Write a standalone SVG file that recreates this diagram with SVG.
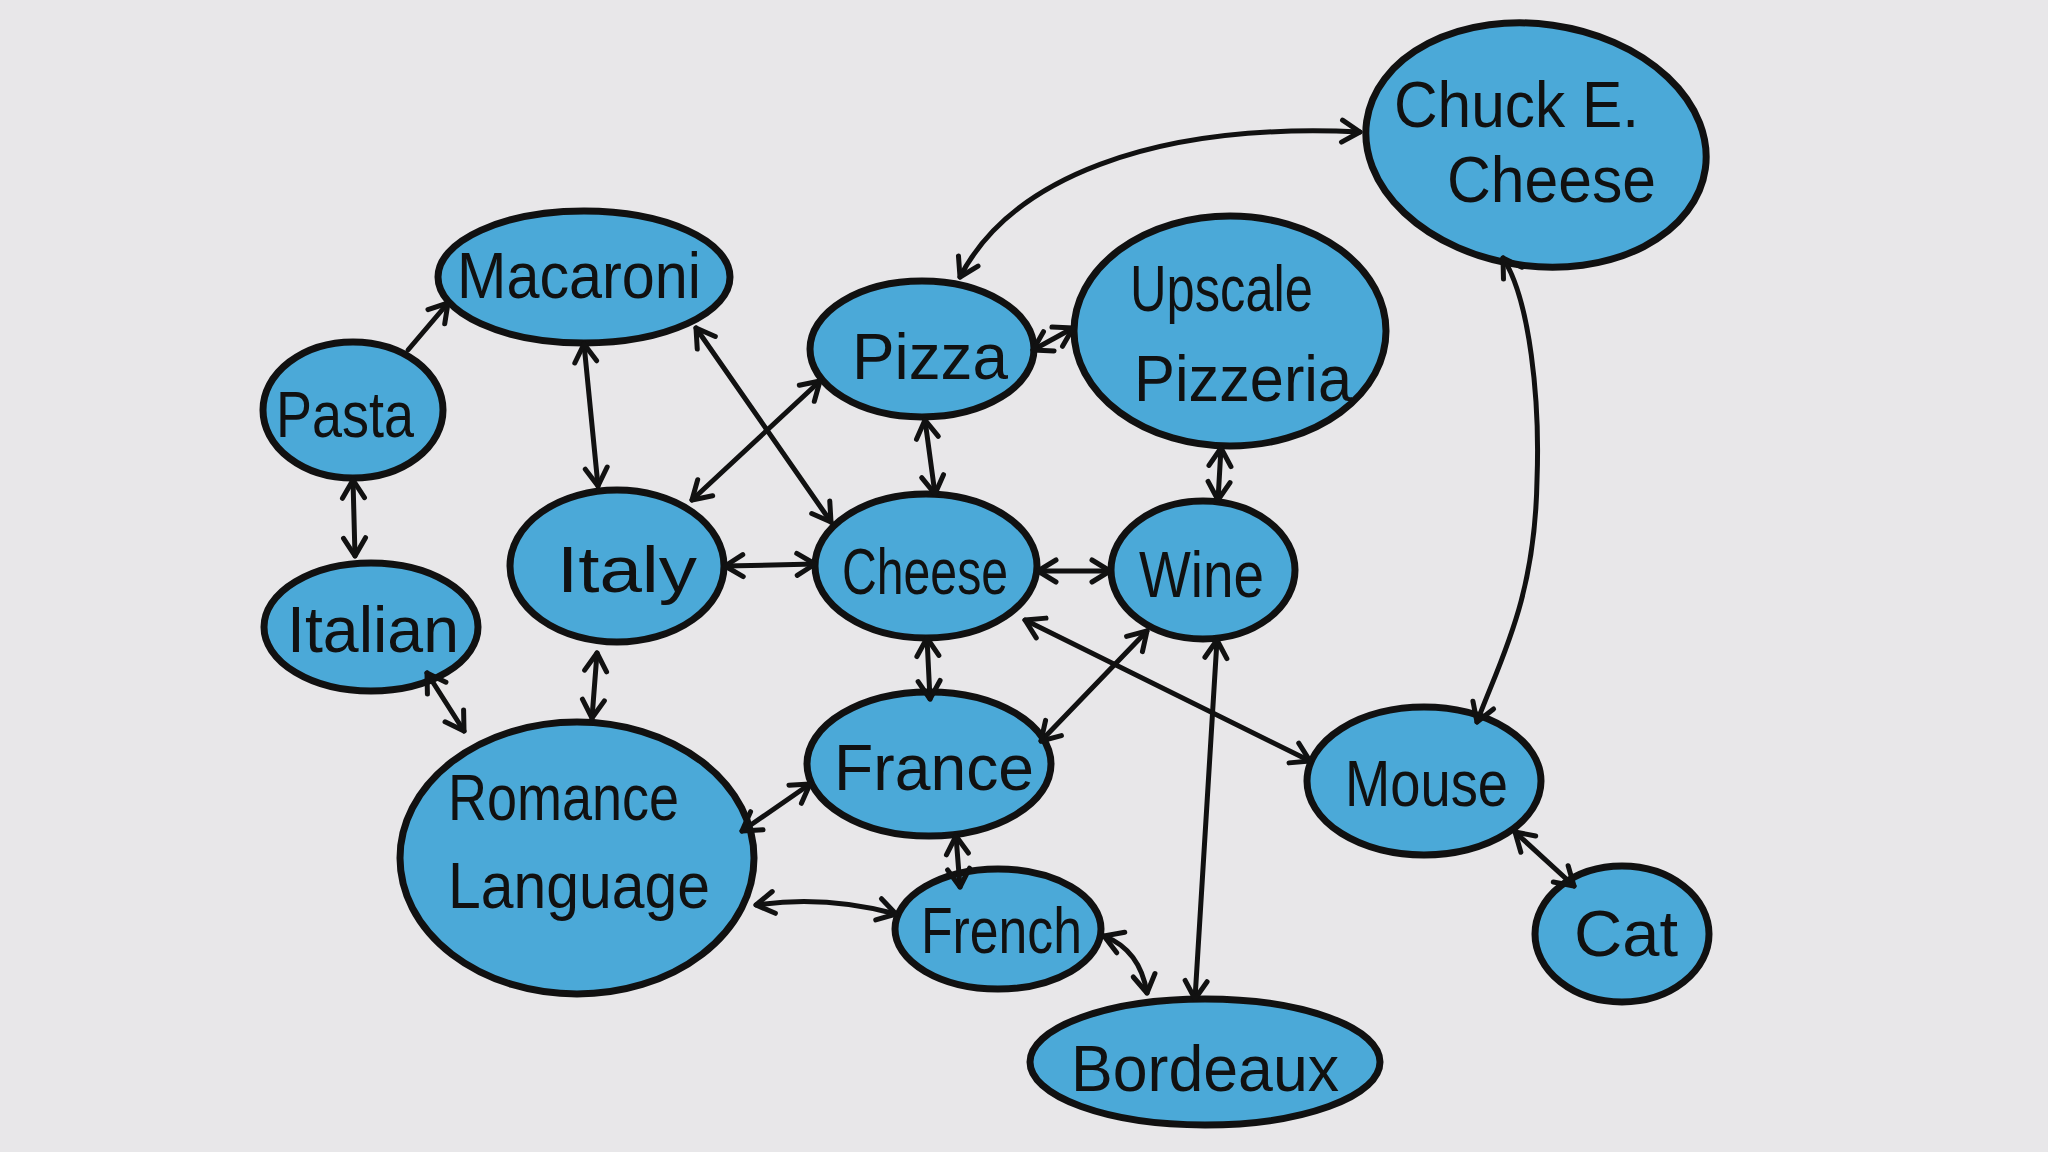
<svg xmlns="http://www.w3.org/2000/svg" width="2048" height="1152" viewBox="0 0 2048 1152">
<defs>
<style>
.node{fill:#4ba9d8;stroke:#111;stroke-width:7}
.lbl{font-family:"Liberation Sans","DejaVu Sans",sans-serif;font-size:64px;fill:#111}
.edge{fill:none;stroke:#111;stroke-width:5;stroke-linecap:round}
.two{marker-start:url(#ah);marker-end:url(#ah)}
.one{marker-end:url(#ah)}
</style>
<marker id="ah" viewBox="-30 -16 34 32" refX="0" refY="0" markerWidth="34" markerHeight="32" markerUnits="userSpaceOnUse" orient="auto-start-reverse" overflow="visible">
<path d="M-18,-11 L0,0 L-18,11" fill="none" stroke="#111" stroke-width="5" stroke-linecap="round" stroke-linejoin="round"/>
</marker>
</defs>
<rect width="2048" height="1152" fill="#e8e7e9"/>

<g id="n-macaroni"><ellipse class="node" cx="584" cy="277" rx="146" ry="66"/><text class="lbl" x="457" y="298" textLength="244" lengthAdjust="spacingAndGlyphs">Macaroni</text></g>
<g id="n-pasta"><ellipse class="node" cx="353" cy="410" rx="90" ry="68"/><text class="lbl" x="276" y="437" textLength="138" lengthAdjust="spacingAndGlyphs">Pasta</text></g>
<g id="n-italian"><ellipse class="node" cx="371" cy="627" rx="107" ry="64"/><text class="lbl" x="287" y="652" textLength="172" lengthAdjust="spacingAndGlyphs">Italian</text></g>
<g id="n-italy"><ellipse class="node" cx="617" cy="566" rx="107" ry="76"/><text class="lbl" x="557" y="592" textLength="140" lengthAdjust="spacingAndGlyphs">Italy</text></g>
<g id="n-romance"><ellipse class="node" cx="577" cy="858" rx="177" ry="136"/><text class="lbl" x="448" y="820" textLength="231" lengthAdjust="spacingAndGlyphs">Romance</text><text class="lbl" x="448" y="908" textLength="262" lengthAdjust="spacingAndGlyphs">Language</text></g>
<g id="n-pizza"><ellipse class="node" cx="922" cy="349" rx="112" ry="68"/><text class="lbl" x="852" y="379" textLength="156" lengthAdjust="spacingAndGlyphs">Pizza</text></g>
<g id="n-upscale"><ellipse class="node" cx="1230" cy="331" rx="156" ry="115"/><text class="lbl" x="1130" y="311" textLength="183" lengthAdjust="spacingAndGlyphs">Upscale</text><text class="lbl" x="1134" y="401" textLength="218" lengthAdjust="spacingAndGlyphs">Pizzeria</text></g>
<g id="n-chuck"><ellipse class="node" cx="1536" cy="145" rx="171" ry="121" transform="rotate(8 1536 145)"/><text class="lbl" x="1394" y="127" textLength="245" lengthAdjust="spacingAndGlyphs">Chuck E.</text><text class="lbl" x="1447" y="202" textLength="209" lengthAdjust="spacingAndGlyphs">Cheese</text></g>
<g id="n-cheese"><ellipse class="node" cx="926" cy="566" rx="111" ry="72"/><text class="lbl" x="842" y="594" textLength="166" lengthAdjust="spacingAndGlyphs">Cheese</text></g>
<g id="n-wine"><ellipse class="node" cx="1203" cy="570" rx="92" ry="69"/><text class="lbl" x="1139" y="597" textLength="125" lengthAdjust="spacingAndGlyphs">Wine</text></g>
<g id="n-france"><ellipse class="node" cx="929" cy="764" rx="122" ry="72"/><text class="lbl" x="834" y="790" textLength="200" lengthAdjust="spacingAndGlyphs">France</text></g>
<g id="n-french"><ellipse class="node" cx="998" cy="929" rx="103" ry="60"/><text class="lbl" x="921" y="953" textLength="161" lengthAdjust="spacingAndGlyphs">French</text></g>
<g id="n-bordeaux"><ellipse class="node" cx="1205" cy="1062" rx="175" ry="63"/><text class="lbl" x="1071" y="1091" textLength="268" lengthAdjust="spacingAndGlyphs">Bordeaux</text></g>
<g id="n-mouse"><ellipse class="node" cx="1424" cy="781" rx="117" ry="74"/><text class="lbl" x="1345" y="806" textLength="163" lengthAdjust="spacingAndGlyphs">Mouse</text></g>
<g id="n-cat"><ellipse class="node" cx="1622" cy="934" rx="87" ry="68"/><text class="lbl" x="1574" y="956" textLength="104" lengthAdjust="spacingAndGlyphs">Cat</text></g>

<g id="connectors">
<path class="edge one" d="M408,350 L448,303"/>
<path class="edge two" d="M353,480 L355,556"/>
<path class="edge two" d="M584,344 L598,486"/>
<path class="edge two" d="M696,328 L831,522"/>
<path class="edge two" d="M692,500 L820,381"/>
<path class="edge two" d="M725,566 L815,564"/>
<path class="edge two" d="M597,653 L592,718"/>
<path class="edge two" d="M427,673 L464,731"/>
<path class="edge two" d="M925,420 L935,494"/>
<path class="edge two" d="M1033,350 L1073,328"/>
<path class="edge two" d="M960,277 C1010,180 1150,122 1360,132"/>
<path class="edge two" d="M1221,448 L1218,500"/>
<path class="edge two" d="M1038,571 L1110,571"/>
<path class="edge two" d="M927,638 L930,699"/>
<path class="edge two" d="M1025,620 L1310,761"/>
<path class="edge two" d="M1147,631 L1041,741"/>
<path class="edge two" d="M1217,640 L1195,999"/>
<path class="edge two" d="M810,784 L742,831"/>
<path class="edge two" d="M956,836 L960,887"/>
<path class="edge two" d="M756,905 Q825,895 896,914"/>
<path class="edge two" d="M1104,936 Q1140,950 1147,993"/>
<path class="edge two" d="M1503,258 C1530,300 1540,400 1537,480 C1535,600 1500,660 1477,722"/>
<path class="edge two" d="M1515,832 L1574,886"/>
</g>
</svg>
